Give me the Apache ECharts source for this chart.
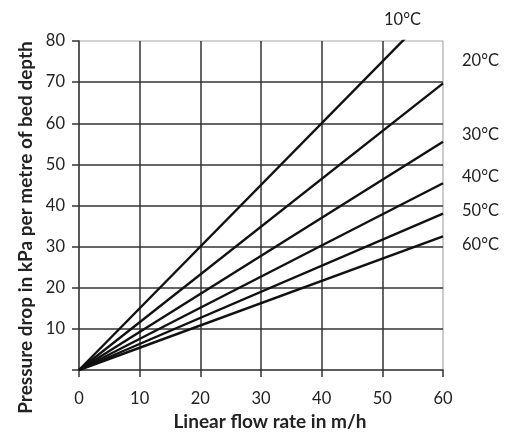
<!DOCTYPE html>
<html>
<head>
<meta charset="utf-8">
<script src="https://cdn.jsdelivr.net/npm/echarts@6/dist/echarts.min.js"></script>
<style>html,body{margin:0;padding:0;background:#fff;}#c{width:517px;height:436px;}</style>
</head>
<body>
<div id="c"></div>
<script>
// Temperatures (series names)
var temps = ['10°C', '20°C', '30°C', '40°C', '50°C', '60°C'];
// Flow rates (m/h) at which each line is sampled
var flowRates = [0, 60];
// Pressure drop (kPa per metre of bed depth) at those flow rates, per temperature
var drop10 = [0, 90];
var drop20 = [0, 69.7];
var drop30 = [0, 55.5];
var drop40 = [0, 45.4];
var drop50 = [0, 38];
var drop60 = [0, 32.5];
var drops = [drop10, drop20, drop30, drop40, drop50, drop60];
// Tick labels
var xTicks = [0, 10, 20, 30, 40, 50, 60];
var yTicks = [10, 20, 30, 40, 50, 60, 70, 80];

var FONT = 'Lato';
var chart = echarts.init(document.getElementById('c'));

var series = temps.map(function (t, i) {
  return {
    name: t,
    type: 'line',
    symbol: 'none',
    clip: true,
    lineStyle: { color: '#111', width: 2.4 },
    data: flowRates.map(function (x, j) { return [x, drops[i][j]]; })
  };
});

// label positions (annotation text): [x of left edge, y of centre]
var labelPos = [[384, 20], [462, 61], [462, 135], [462, 177], [462, 211], [462, 245]];
var graphics = temps.map(function (t, i) {
  return {
    type: 'text', x: labelPos[i][0], y: labelPos[i][1],
    style: { text: t, fontFamily: FONT, fontSize: 16.5, fill: '#222',
      align: 'left', verticalAlign: 'middle', textAlign: 'left', textVerticalAlign: 'middle' }
  };
});

chart.setOption({
  animation: false,
  backgroundColor: '#fff',
  grid: { left: 79, right: 74, top: 41, bottom: 63, show: true, borderColor: '#aaa', borderWidth: 1.2 },
  xAxis: {
    type: 'value', min: 0, max: 60, interval: 10,
    name: 'Linear flow rate in m/h', nameLocation: 'middle', nameGap: 42,
    nameTextStyle: { fontFamily: FONT, fontWeight: 'bold', fontSize: 19, color: '#222', padding: [0, 0, 0, 18] },
    axisLine: { show: true, lineStyle: { color: '#333', width: 1.5 } },
    axisTick: { show: true, length: 7, lineStyle: { color: '#333', width: 1.5 } },
    axisLabel: { fontFamily: FONT, fontSize: 16.5, color: '#222', margin: 20,
      formatter: function (v) { return xTicks.indexOf(v) >= 0 ? String(v) : ''; } },
    splitLine: { show: true, showMinLine: false, showMaxLine: false, lineStyle: { color: '#333', width: 1.5 } }
  },
  yAxis: {
    type: 'value', min: 0, max: 80, interval: 10,
    name: 'Pressure drop in kPa per metre of bed depth', nameLocation: 'middle', nameGap: 44,
    nameTextStyle: { fontFamily: FONT, fontWeight: 'bold', fontSize: 19, color: '#222', padding: [0, 44, 0, 0] },
    axisLine: { show: true, lineStyle: { color: '#333', width: 1.5 } },
    axisTick: { show: true, length: 7, lineStyle: { color: '#333', width: 1.5 } },
    axisLabel: { fontFamily: FONT, fontSize: 16.5, color: '#222', margin: 14,
      formatter: function (v) { return yTicks.indexOf(v) >= 0 ? String(v) : ''; } },
    splitLine: { show: true, showMinLine: false, showMaxLine: false, lineStyle: { color: '#333', width: 1.5 } }
  },
  graphic: graphics,
  series: series
});
</script>
</body>
</html>
